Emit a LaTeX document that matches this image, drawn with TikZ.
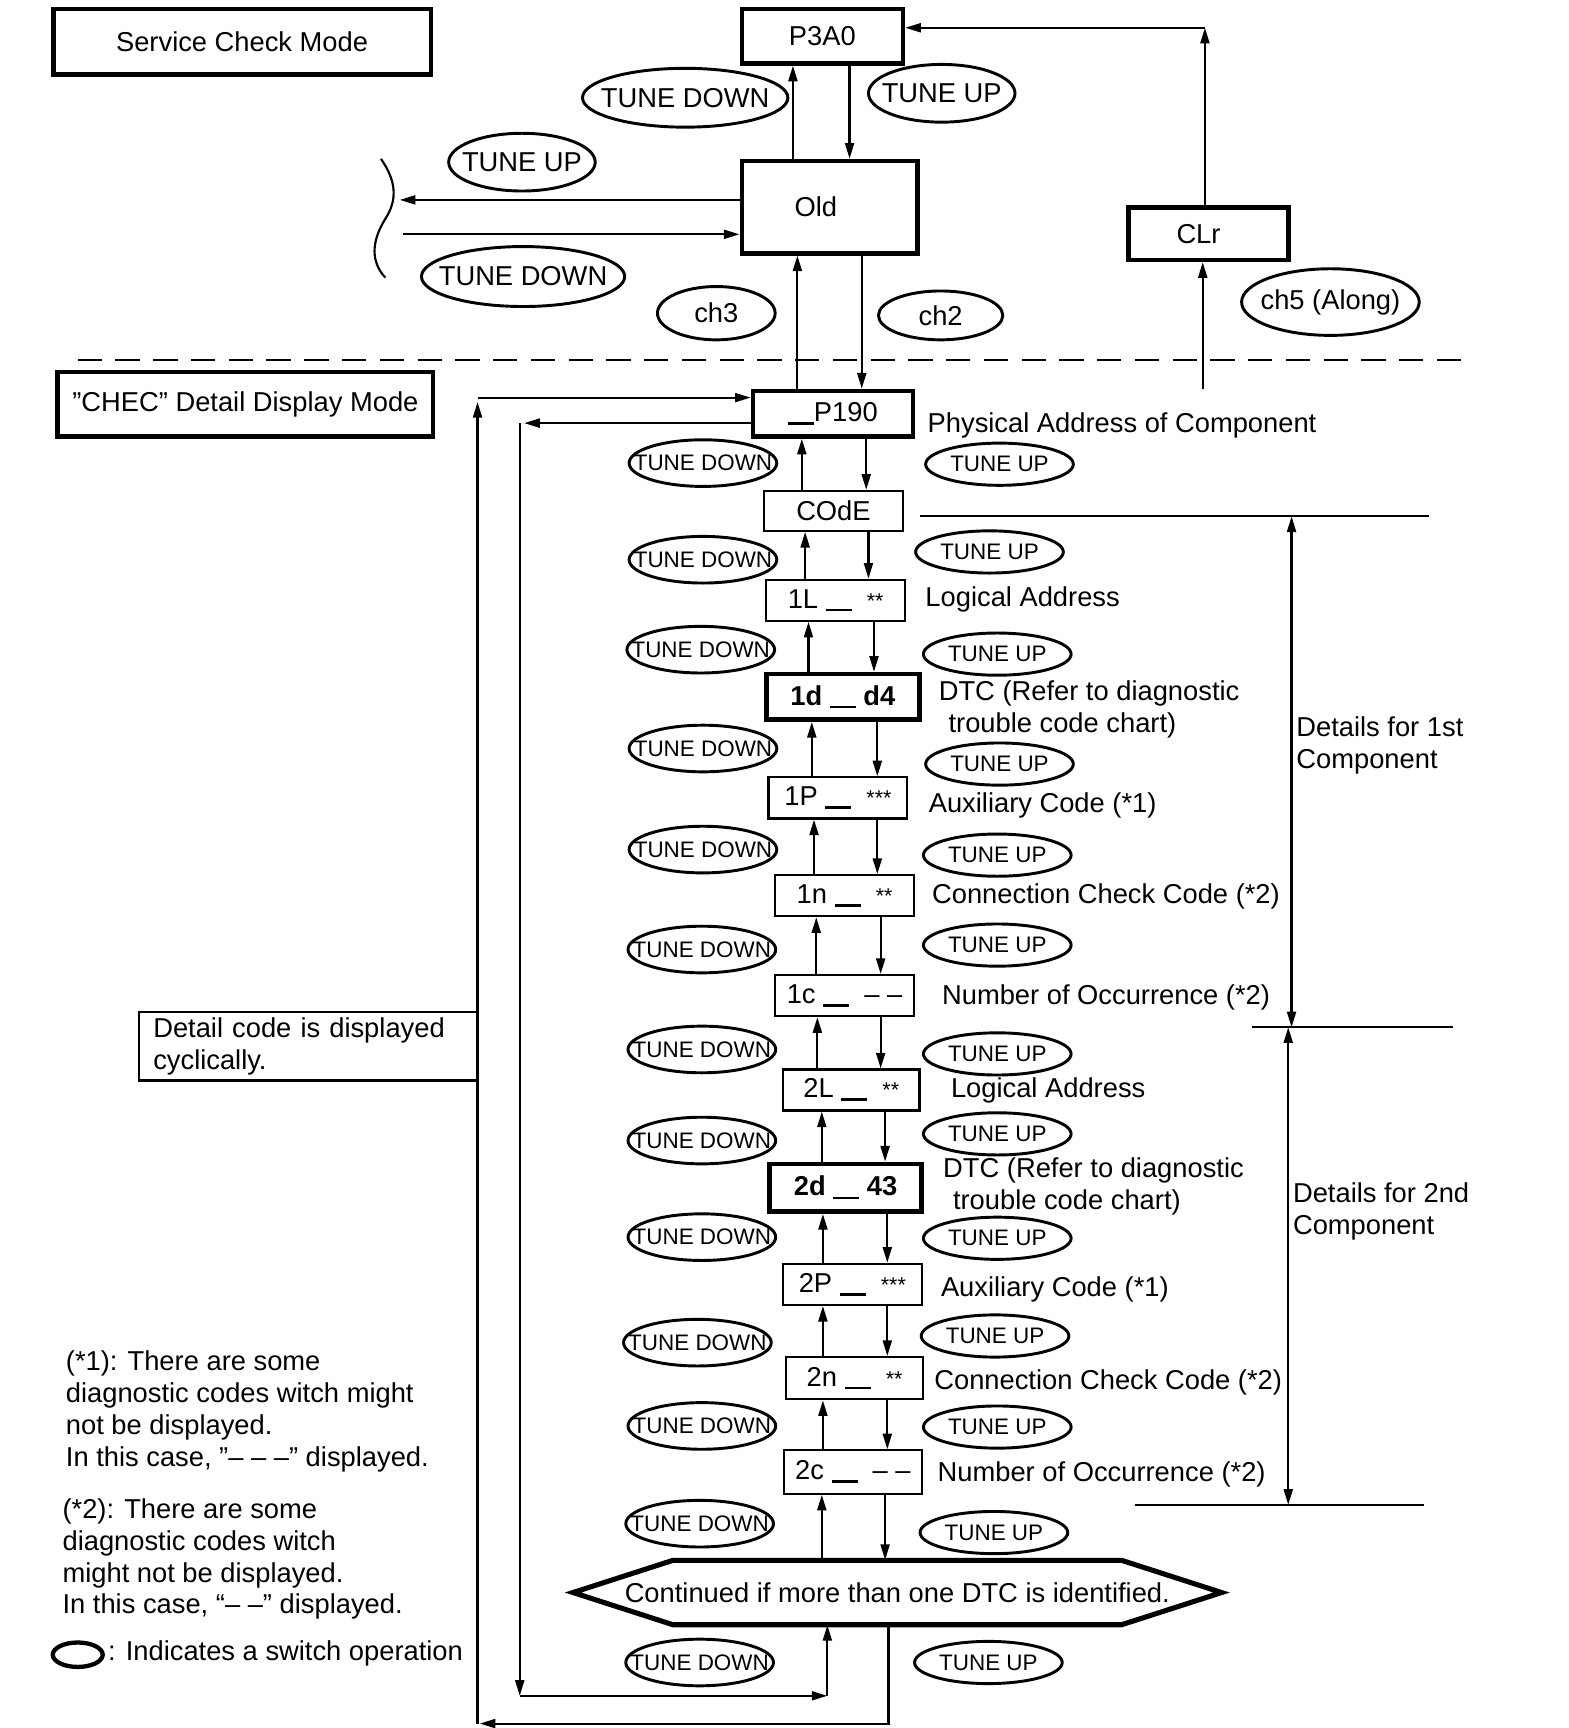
\documentclass[tikz,border=0pt]{standalone}
\usepackage{fontspec}
\setmainfont{Liberation Sans}
\usetikzlibrary{arrows.meta,shapes.geometric}
\newcommand\ulbar{\rule[-0.12em]{0.95em}{0.1em}}
\newcommand\zw[1]{\makebox[0pt][c]{#1}}
\newcommand\stars[1]{{\fontsize{11}{11}\selectfont #1}}
\begin{document}
\begin{tikzpicture}[x=0.02cm,y=-0.02cm,
 every node/.style={font=\fontsize{14}{16.3}\selectfont, inner sep=0pt},
 arr/.style={line width=1.1pt,-{Triangle[length=8pt,width=4.6pt]}},
 darr/.style={line width=1.1pt,{Triangle[length=8pt,width=4.6pt]}-{Triangle[length=8pt,width=4.6pt]}},
 ln/.style={line width=1.1pt},
 bx/.style={draw,line width=1.1pt,minimum width=2.5cm,minimum height=0.74cm},
 tbx/.style={draw,line width=2.4pt},
 sw/.style={draw,ellipse,line width=1.5pt},
 td/.style={sw,minimum width=2.66cm,minimum height=0.84cm,font=\fontsize{11.5}{13}\selectfont},
 tu/.style={sw,minimum width=2.66cm,minimum height=0.76cm,font=\fontsize{11.5}{13}\selectfont},
 lab/.style={anchor=west,align=left}]
\useasboundingbox (0,0) rectangle (1412,1556);

% ---------- Service check mode ----------
\node[tbx,minimum width=6.8cm,minimum height=1.18cm] (scm) at (218,37.5) {Service Check Mode};
\node[tbx,minimum width=2.9cm,minimum height=0.98cm] (p3a0) at (740.5,32.5) {P3A0};
\node[tbx,minimum width=3.16cm,minimum height=1.66cm] (old) at (747,186.5) {\hspace*{-14pt}Old};
\node[tbx,minimum width=2.88cm,minimum height=0.94cm] (clr) at (1088,210.5) {\hspace*{-10pt}CLr};

\node[sw,minimum width=3.7cm,minimum height=1.06cm] (e1) at (617,88) {\zw{TUNE DOWN}};
\node[sw,minimum width=2.64cm,minimum height=1.04cm] (e2) at (848,84) {\zw{TUNE UP}};
\node[sw,minimum width=2.64cm,minimum height=1.04cm] (e3) at (470,146) {\zw{TUNE UP}};
\node[sw,minimum width=3.66cm,minimum height=1.08cm] (e4) at (471,249) {\zw{TUNE DOWN}};
\node[sw,minimum width=2.12cm,minimum height=0.96cm] (e5) at (645,282) {\zw{ch3}};
\node[sw,minimum width=2.24cm,minimum height=0.88cm] (e6) at (847,284) {\zw{ch2}};
\node[sw,minimum width=3.2cm,minimum height=1.2cm] (e7) at (1198,272) {\zw{ch5 (Along)}};

\draw[arr] (old.north -| 714,0) -- (p3a0.south -| 714,0);
\draw[arr] (p3a0.south -| 765,0) -- (old.north -| 765,0);
\coordinate (lt) at (360,180);
\coordinate (rt) at (363,211);
\draw[arr] (old.west |- lt) -- (lt);
\draw[arr] (rt) -- (old.west |- rt);
\draw[ln] (343,143) .. controls (357,163) and (358,180) .. (347,197) .. controls (334,218) and (334,236) .. (347,250);

\coordinate (cb) at (1083,350);
\draw[arr] (cb) -- (clr.south -| cb);
\coordinate (ct) at (1085,25);
\draw[arr] (clr.north -| ct) -- (ct);
\draw[arr] (ct) -- (p3a0.east |- ct);

\draw[line width=1.2pt, dash pattern=on 0.44cm off 0.24cm] (70,324) -- (1320,324);

% ---------- CHEC detail display mode ----------
\node[tbx,minimum width=6.76cm,minimum height=1.16cm] (chec) at (221,364) {"CHEC” Detail Display Mode};

\node[tbx,minimum width=2.88cm,minimum height=0.82cm] (p190) at (750,372.5) {\ulbar P190};
\node[bx,minimum height=0.72cm] (code) at (750.5,460) {COdE};
\node[bx] (l1) at (752.5,540.5) {1L \ulbar\ \ \stars{**}};
\node[tbx,minimum width=2.76cm,minimum height=0.82cm] (d1) at (759,627.5) {\bfseries 1d \ulbar\ d4};
\node[bx] (p1) at (754.5,718.5) {1P \ulbar\ \ \stars{***}};
\node[bx] (n1) at (760.5,806.5) {1n \ulbar\ \ \stars{**}};
\node[bx] (c1) at (760.5,896.5) {1c \ulbar\ \ – –};
\node[bx,minimum width=2.46cm] (l2) at (766.5,981.5) {2L \ulbar\ \ \stars{**}};
\node[tbx,minimum width=2.74cm,minimum height=0.86cm] (d2) at (761.5,1069.5) {\bfseries 2d \ulbar\ 43};
\node[bx] (p2) at (767.5,1156.5) {2P \ulbar\ \ \stars{***}};
\node[bx,minimum width=2.46cm,minimum height=0.76cm] (n2) at (769.5,1241) {2n \ulbar\ \ \stars{**}};
\node[bx,minimum width=2.48cm,minimum height=0.78cm] (c2) at (768,1325.5) {2c \ulbar\ \ – –};
\node[minimum width=11.68cm,minimum height=1.16cm] (hex) at (808,1434) {Continued if more than one DTC is identified.};
\draw[line width=2.6pt] (516,1434) -- (606,1405) -- (1010,1405) -- (1100,1434) -- (1010,1463) -- (606,1463) -- cycle;

\draw[arr] (p190.north -| 718,0) -- (old.south -| 718,0);
\draw[arr] (old.south -| 776,0) -- (p190.north -| 776,0);

\foreach \a/\b/\u/\d in {p190/code/722/780, code/l1/725/782, l1/d1/728/787, d1/p1/731/790, p1/n1/733/790, n1/c1/735/793, c1/l2/736/793, l2/d2/740/797, d2/p2/741/799, p2/n2/741/799, n2/c2/741/799, c2/hex/740/797} {
  \draw[arr] (\b.north -| \u,0) -- (\a.south -| \u,0);
  \draw[arr] (\a.south -| \d,0) -- (\b.north -| \d,0);
}

\foreach \n/\x/\y in {1/633/417, 2/633/504, 3/631/585, 4/633/674, 5/633/765, 6/632/855, 7/632/945, 8/632/1027, 9/632/1114, 10/628/1209, 11/632/1284, 12/630/1372, 13/630/1497}
  \node[td] (td\n) at (\x,\y) {\zw{TUNE DOWN}};
\foreach \n/\x/\y in {1/900/418, 2/891/497, 3/898/589, 4/900/688, 5/898/770, 6/898/851, 7/898/949, 8/898/1021, 9/898/1115, 10/896/1203, 11/898/1285, 12/895/1380, 13/890/1497}
  \node[tu] (tu\n) at (\x,\y) {\zw{TUNE UP}};

% left loops
\coordinate (o1) at (800,1552);
\coordinate (o2) at (432,1552);
\coordinate (o3) at (430,1552);
\coordinate (o4) at (430,362);
\coordinate (o5) at (430,358);
\draw[arr] (hex.south -| o1) -- (o1) -- (o2);
\draw[arr] (o3) -- (o4);
\draw[arr] (o5) -- (p190.west |- o5);
\coordinate (i1) at (472,381);
\coordinate (i2) at (468,381);
\coordinate (i3) at (468,1527);
\coordinate (i4) at (745,1527);
\draw[arr] (p190.west |- i1) -- (i1);
\draw[arr] (i2) -- (i3);
\draw[arr] (i3) -- (i4);
\draw[arr] (i4) -- (hex.south -| i4);

% labels
\node[lab] (lb0) at (835,383) {Physical Address of Component};
\node[lab] (lb1) at (833,540) {Logical Address};
\node[lab] (lb2) at (845,639) {DTC (Refer to diagnostic\\\hspace*{5pt}trouble code chart)};
\node[lab] (lb3) at (836,725) {Auxiliary Code (*1)};
\node[lab] (lb4) at (839,807) {Connection Check Code (*2)};
\node[lab] (lb5) at (848,898) {Number of Occurrence (*2)};
\node[lab] (lb6) at (856,982) {Logical Address};
\node[lab] (lb7) at (849,1068) {DTC (Refer to diagnostic\\\hspace*{5pt}trouble code chart)};
\node[lab] (lb8) at (847,1161) {Auxiliary Code (*1)};
\node[lab] (lb9) at (841,1245) {Connection Check Code (*2)};
\node[lab] (lb10) at (844,1328) {Number of Occurrence (*2)};

% right brackets
\draw[ln] (828,465) -- (1287,465);
\draw[darr] (1163,465) -- (1163,925);
\draw[ln] (1127,925) -- (1308,925);
\draw[darr] (1160,925) -- (1160,1355);
\draw[ln] (1022,1355) -- (1282,1355);
\node[lab] (dl1) at (1167,671) {Details for 1st\\Component};
\node[lab] (dl2) at (1164,1091) {Details for 2nd\\Component};

% left notes
\node[draw,line width=1.1pt,minimum width=6.1cm,minimum height=1.24cm,text width=5.58cm,align=left] (dcb) at (277.5,942) {Detail code is displayed\\cyclically.};
\node[lab] (nt1) at (59,1271) {(*1): There are some\\diagnostic codes witch might\\not be displayed.\\In this case, ”– – –” displayed.};
\node[lab] (nt2) at (56,1404) {(*2): There are some\\diagnostic codes witch\\might not be displayed.\\In this case, “– –” displayed.};
\node[draw,ellipse,line width=2.2pt,minimum width=0.9cm,minimum height=0.44cm] (leg) at (70,1490) {};
\node[lab] (legt) at (97,1489) {: Indicates a switch operation};
\end{tikzpicture}
\end{document}
